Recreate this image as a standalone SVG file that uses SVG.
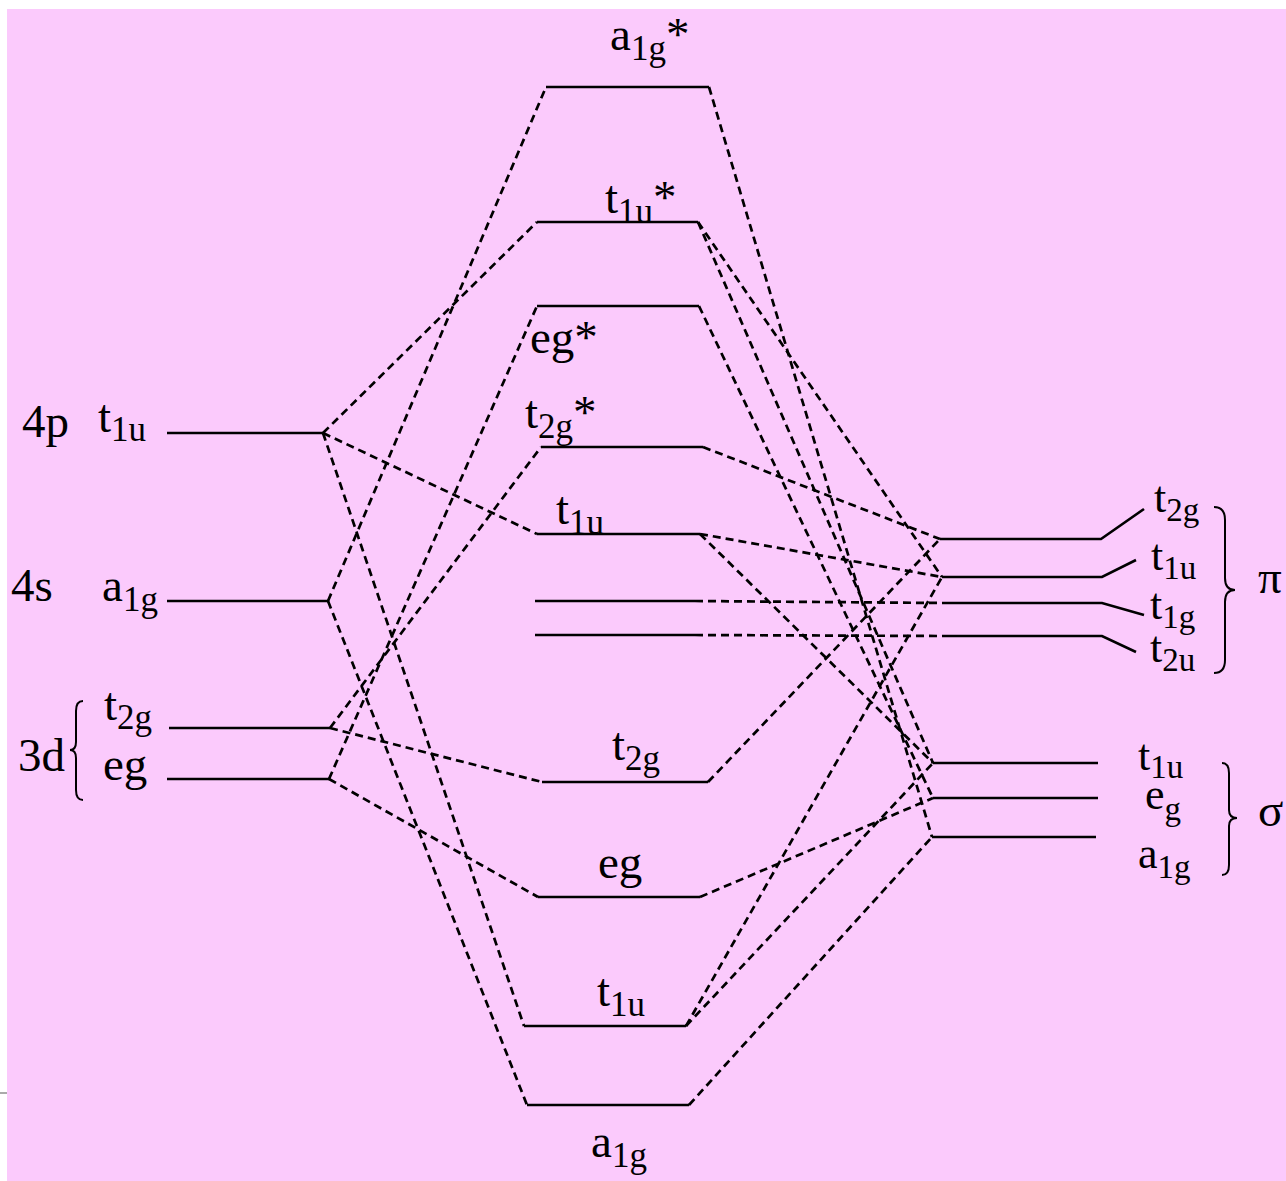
<svg xmlns="http://www.w3.org/2000/svg" width="1286" height="1181" viewBox="0 0 1286 1181">
<style>
.bg{fill:#FBCAFC}
.lv{stroke:#000;stroke-width:2.6;fill:none;stroke-linecap:butt}
.d{stroke:#000;stroke-width:2.7;fill:none;stroke-dasharray:8 5}
.br{stroke:#000;stroke-width:2;fill:none}
.t{font-family:"Liberation Serif","Times New Roman",serif;font-size:47px;fill:#000}
.s{font-size:35px}
.r{font-size:44px}
.rs{font-size:33px}
</style>
<rect x="0" y="0" width="1286" height="1181" fill="#fff"/>
<rect class="bg" x="7" y="9" width="1279" height="1172"/>
<line x1="0" y1="1093" x2="7" y2="1093" stroke="#aaa" stroke-width="2"/>

<g id="connectors">
<line class="d" x1="323" y1="433" x2="537" y2="222"/>
<line class="d" x1="323" y1="433" x2="537" y2="534"/>
<line class="d" x1="323" y1="433" x2="524" y2="1026"/>
<line class="d" x1="328" y1="601" x2="546" y2="87"/>
<line class="d" x1="328" y1="601" x2="527" y2="1105"/>
<line class="d" x1="330" y1="728" x2="541" y2="447"/>
<line class="d" x1="330" y1="728" x2="542" y2="782"/>
<line class="d" x1="329" y1="779" x2="537" y2="306"/>
<line class="d" x1="329" y1="779" x2="538" y2="897"/>
<line class="d" x1="709" y1="87" x2="932" y2="837"/>
<line class="d" x1="698" y1="222" x2="942" y2="577"/>
<line class="d" x1="698" y1="222" x2="933" y2="763"/>
<line class="d" x1="699" y1="306" x2="933" y2="798"/>
<line class="d" x1="703" y1="447" x2="940" y2="539"/>
<line class="d" x1="700" y1="534" x2="942" y2="577"/>
<line class="d" x1="700" y1="534" x2="933" y2="763"/>
<line class="d" x1="695" y1="601" x2="942" y2="603"/>
<line class="d" x1="695" y1="635" x2="942" y2="636"/>
<line class="d" x1="708" y1="782" x2="940" y2="539"/>
<line class="d" x1="700" y1="897" x2="933" y2="798"/>
<line class="d" x1="686" y1="1026" x2="942" y2="577"/>
<line class="d" x1="686" y1="1026" x2="933" y2="763"/>
<line class="d" x1="689" y1="1105" x2="932" y2="837"/>
</g>

<g id="metal-4p-t1u">
<line class="lv" x1="167" y1="433" x2="323" y2="433"/>
<text class="t" x="22" y="437">4p</text>
<text class="t" x="98" y="432">t<tspan class="s" dy="9">1u</tspan></text>
</g>
<g id="metal-4s-a1g">
<line class="lv" x1="167" y1="601" x2="328" y2="601"/>
<text class="t" x="11" y="601">4s</text>
<text class="t" x="102" y="601">a<tspan class="s" dy="10">1g</tspan></text>
</g>
<g id="metal-3d-t2g">
<line class="lv" x1="169" y1="728" x2="330" y2="728"/>
<text class="t" x="104" y="720">t<tspan class="s" dy="9">2g</tspan></text>
</g>
<g id="metal-3d-eg">
<line class="lv" x1="167" y1="779" x2="329" y2="779"/>
<text class="t" x="103" y="780">eg</text>
</g>
<g id="metal-3d-label">
<text class="t" x="18" y="771">3d</text>
<path class="br" d="M83,701 Q76,701 76,711 L76,742 Q76,750 70,750 Q76,750 76,758 L76,790 Q76,800 83,800"/>
</g>

<g id="mo-a1g-star">
<line class="lv" x1="546" y1="87" x2="709" y2="87"/>
<text class="t" x="610" y="50">a<tspan class="s" dy="10">1g</tspan><tspan dy="-10">*</tspan></text>
</g>
<g id="mo-t1u-star">
<line class="lv" x1="537" y1="222" x2="698" y2="222"/>
<text class="t" x="605" y="213">t<tspan class="s" dy="10">1u</tspan><tspan dy="-10">*</tspan></text>
</g>
<g id="mo-eg-star">
<line class="lv" x1="537" y1="306" x2="699" y2="306"/>
<text class="t" x="530" y="353">eg*</text>
</g>
<g id="mo-t2g-star">
<line class="lv" x1="541" y1="447" x2="703" y2="447"/>
<text class="t" x="525" y="428">t<tspan class="s" dy="10">2g</tspan><tspan dy="-10">*</tspan></text>
</g>
<g id="mo-t1u-mid">
<line class="lv" x1="537" y1="534" x2="700" y2="534"/>
<text class="t" x="556" y="524">t<tspan class="s" dy="10">1u</tspan></text>
</g>
<g id="mo-nonbonding-t1g">
<line class="lv" x1="535" y1="601" x2="695" y2="601"/>
</g>
<g id="mo-nonbonding-t2u">
<line class="lv" x1="535" y1="635" x2="695" y2="635"/>
</g>
<g id="mo-t2g">
<line class="lv" x1="542" y1="782" x2="708" y2="782"/>
<text class="t" x="612" y="760">t<tspan class="s" dy="10">2g</tspan></text>
</g>
<g id="mo-eg">
<line class="lv" x1="538" y1="897" x2="700" y2="897"/>
<text class="t" x="598" y="878">eg</text>
</g>
<g id="mo-t1u-low">
<line class="lv" x1="524" y1="1026" x2="686" y2="1026"/>
<text class="t" x="597" y="1006">t<tspan class="s" dy="10">1u</tspan></text>
</g>
<g id="mo-a1g">
<line class="lv" x1="527" y1="1105" x2="689" y2="1105"/>
<text class="t" x="591" y="1157">a<tspan class="s" dy="10">1g</tspan></text>
</g>

<g id="lig-pi-t2g">
<polyline class="lv" points="940,539 1101,539 1144,509"/>
<text class="t r" x="1154" y="512">t<tspan class="rs" dy="9">2g</tspan></text>
</g>
<g id="lig-pi-t1u">
<polyline class="lv" points="942,577 1102,577 1136,560"/>
<text class="t r" x="1151" y="570">t<tspan class="rs" dy="9">1u</tspan></text>
</g>
<g id="lig-pi-t1g">
<polyline class="lv" points="942,603 1102,603 1144,615"/>
<text class="t r" x="1150" y="619">t<tspan class="rs" dy="9">1g</tspan></text>
</g>
<g id="lig-pi-t2u">
<polyline class="lv" points="942,636 1102,636 1136,652"/>
<text class="t r" x="1150" y="662">t<tspan class="rs" dy="9">2u</tspan></text>
</g>
<g id="lig-pi-label">
<path class="br" d="M1214,507 Q1225,507 1225,520 L1225,578 Q1225,590 1235,590 Q1225,590 1225,602 L1225,660 Q1225,673 1214,673"/>
<text class="t" x="1258" y="593">π</text>
</g>

<g id="lig-sigma-t1u">
<line class="lv" x1="933" y1="763" x2="1098" y2="763"/>
<text class="t r" x="1138" y="770">t<tspan class="rs" dy="8">1u</tspan></text>
</g>
<g id="lig-sigma-eg">
<line class="lv" x1="933" y1="798" x2="1098" y2="798"/>
<text class="t r" x="1145" y="809">e<tspan class="rs" dy="11">g</tspan></text>
</g>
<g id="lig-sigma-a1g">
<line class="lv" x1="932" y1="837" x2="1096" y2="837"/>
<text class="t r" x="1138" y="868">a<tspan class="rs" dy="10">1g</tspan></text>
</g>
<g id="lig-sigma-label">
<path class="br" d="M1222,763 Q1229,763 1229,773 L1229,810 Q1229,818 1237,818 Q1229,818 1229,826 L1229,865 Q1229,875 1222,875"/>
<text class="t" x="1258" y="826">σ</text>
</g>
</svg>
